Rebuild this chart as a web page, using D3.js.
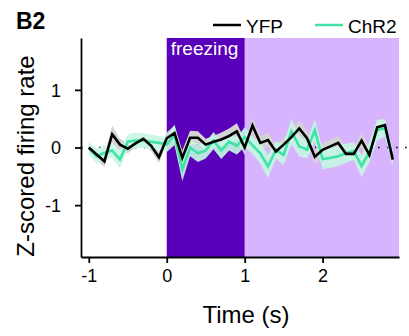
<!DOCTYPE html>
<html>
<head>
<meta charset="utf-8">
<script src="https://cdn.jsdelivr.net/npm/d3@7"></script>
<style>
  body { margin: 0; background: #fff; }
  text { font-family: Arial, "Liberation Sans", sans-serif; }
</style>
</head>
<body>
<svg width="409" height="336"></svg>
<script>
// time bins (s)
var times = d3.range(40).map(function (i) { return -1 + i * 0.1; });

var yfpMean = [0, -0.12, -0.24, 0.23, 0.05, -0.02, 0.07, 0.15, 0.03, -0.17,
               0.16, 0.25, -0.18, 0.17, 0.17, 0.05, 0.10, 0.14, 0.20, 0.28,
               0.0, 0.38, 0.08, 0.13, -0.07, 0.05, 0.18, 0.33, 0.16, -0.16,
               -0.04, 0.02, 0.08, -0.11, -0.11, 0.12, -0.13, 0.35, 0.39, -0.21];
var yfpSem = [0.06, 0.09, 0.10, 0.15, 0.10, 0.08, 0.08, 0.09, 0.09, 0.10,
              0.10, 0.13, 0.13, 0.12, 0.11, 0.10, 0.10, 0.12, 0.13, 0.14,
              0.13, 0.13, 0.12, 0.12, 0.11, 0.12, 0.13, 0.14, 0.13, 0.13,
              0.12, 0.11, 0.12, 0.12, 0.12, 0.13, 0.13, 0.13, 0.10, 0.10];

var chr2Mean = [-0.01, -0.15, -0.09, -0.05, -0.21, 0.10, 0.12, 0.12, 0.10, 0.08,
                0.05, 0.22, -0.38, 0.00, -0.10, -0.05, 0.12, -0.05, 0.10, 0.03,
                0.18, 0.04, -0.10, -0.33, -0.04, -0.13, 0.28, 0.02, -0.04, 0.30,
                -0.20, -0.18, -0.15, -0.10, -0.06, -0.32, -0.08, 0.30, 0.34, -0.18];
var chr2Sem = [0.10, 0.13, 0.12, 0.13, 0.15, 0.13, 0.13, 0.13, 0.12, 0.12,
               0.13, 0.18, 0.20, 0.15, 0.15, 0.14, 0.15, 0.15, 0.15, 0.15,
               0.17, 0.15, 0.18, 0.20, 0.15, 0.18, 0.22, 0.17, 0.15, 0.19,
               0.18, 0.17, 0.17, 0.17, 0.15, 0.19, 0.17, 0.18, 0.15, 0.15];

var xTicks = [-1, 0, 1, 2];
var yTicks = [-1, 0, 1];
var freezeOn = 0, freezeDark = 1, freezeEnd = 2.98;

var svg = d3.select("svg");

var x = d3.scaleLinear().domain([-1.1, 2.98]).range([81, 399]);
var y = d3.scaleLinear().domain([-1.9, 1.9]).range([257, 38]);

// shaded periods
svg.append("rect")
    .attr("x", x(freezeDark)).attr("y", y(1.9))
    .attr("width", x(freezeEnd) - x(freezeDark)).attr("height", y(-1.9) - y(1.9))
    .attr("fill", "#d8b4fe");
svg.append("rect")
    .attr("x", x(freezeOn)).attr("y", y(1.9))
    .attr("width", x(freezeDark) - x(freezeOn)).attr("height", y(-1.9) - y(1.9))
    .attr("fill", "#5a00ba");

svg.append("text")
    .attr("x", x(freezeOn) + 4).attr("y", 55)
    .attr("fill", "#fff").attr("font-size", 19)
    .text("freezing");

// zero line
svg.append("line")
    .attr("x1", x(-1.1)).attr("x2", x(3.08))
    .attr("y1", y(0)).attr("y2", y(0))
    .attr("stroke", "#000").attr("stroke-width", 1.6)
    .attr("stroke-dasharray", "1.6,7.4");

var area = function (mean, sem) {
  return d3.area()
      .x(function (d, i) { return x(times[i]); })
      .y0(function (d, i) { return y(mean[i] - sem[i]); })
      .y1(function (d, i) { return y(mean[i] + sem[i]); })(mean);
};
var line = d3.line()
    .x(function (d, i) { return x(times[i]); })
    .y(function (d) { return y(d); });

svg.append("path").attr("d", area(yfpMean, yfpSem)).attr("fill", "#d3d3d3");
svg.append("path").attr("d", area(chr2Mean, chr2Sem)).attr("fill", "#c6f6e4").attr("fill-opacity", 0.92);
svg.append("path").attr("d", line(chr2Mean)).attr("fill", "none")
    .attr("stroke", "#3fe3a6").attr("stroke-width", 2.6);
svg.append("path").attr("d", line(yfpMean)).attr("fill", "none")
    .attr("stroke", "#000").attr("stroke-width", 2.6);

// axes
var xAxis = svg.append("g")
    .attr("transform", "translate(0," + 257 + ")")
    .call(d3.axisBottom(x).tickValues(xTicks).tickSize(6).tickPadding(6)
      .tickFormat(function (d) { return String(d); }).tickSizeOuter(0));
var yAxis = svg.append("g")
    .attr("transform", "translate(" + 81 + ",0)")
    .call(d3.axisLeft(y).tickValues(yTicks).tickSize(6).tickPadding(14)
      .tickFormat(function (d) { return String(d); }).tickSizeOuter(0));
[xAxis, yAxis].forEach(function (g) {
  g.select(".domain").attr("stroke-width", 1.8);
  g.selectAll(".tick line").attr("stroke-width", 1.8);
  g.selectAll(".tick text").attr("font-size", 18)
      .attr("font-family", "Arial, 'Liberation Sans', sans-serif");
});
yAxis.selectAll(".tick text").attr("dy", "0.35em");

svg.append("text")
    .attr("x", 246).attr("y", 323)
    .attr("text-anchor", "middle").attr("font-size", 24)
    .text("Time (s)");
svg.append("text")
    .attr("transform", "translate(34,156) rotate(-90)")
    .attr("text-anchor", "middle").attr("font-size", 24)
    .text("Z-scored firing rate");

// panel label
svg.append("text")
    .attr("x", 16).attr("y", 29)
    .attr("font-size", 23).attr("font-weight", "bold")
    .text("B2");

// legend
var legend = [
  {name: "YFP", color: "#000", x: 213},
  {name: "ChR2", color: "#3fe3a6", x: 315}
];
legend.forEach(function (d) {
  svg.append("line")
      .attr("x1", d.x).attr("x2", d.x + 28)
      .attr("y1", 25).attr("y2", 25)
      .attr("stroke", d.color).attr("stroke-width", 2.5);
  svg.append("text")
      .attr("x", d.x + 33).attr("y", 33)
      .attr("font-size", 19)
      .text(d.name);
});
</script>
</body>
</html>
